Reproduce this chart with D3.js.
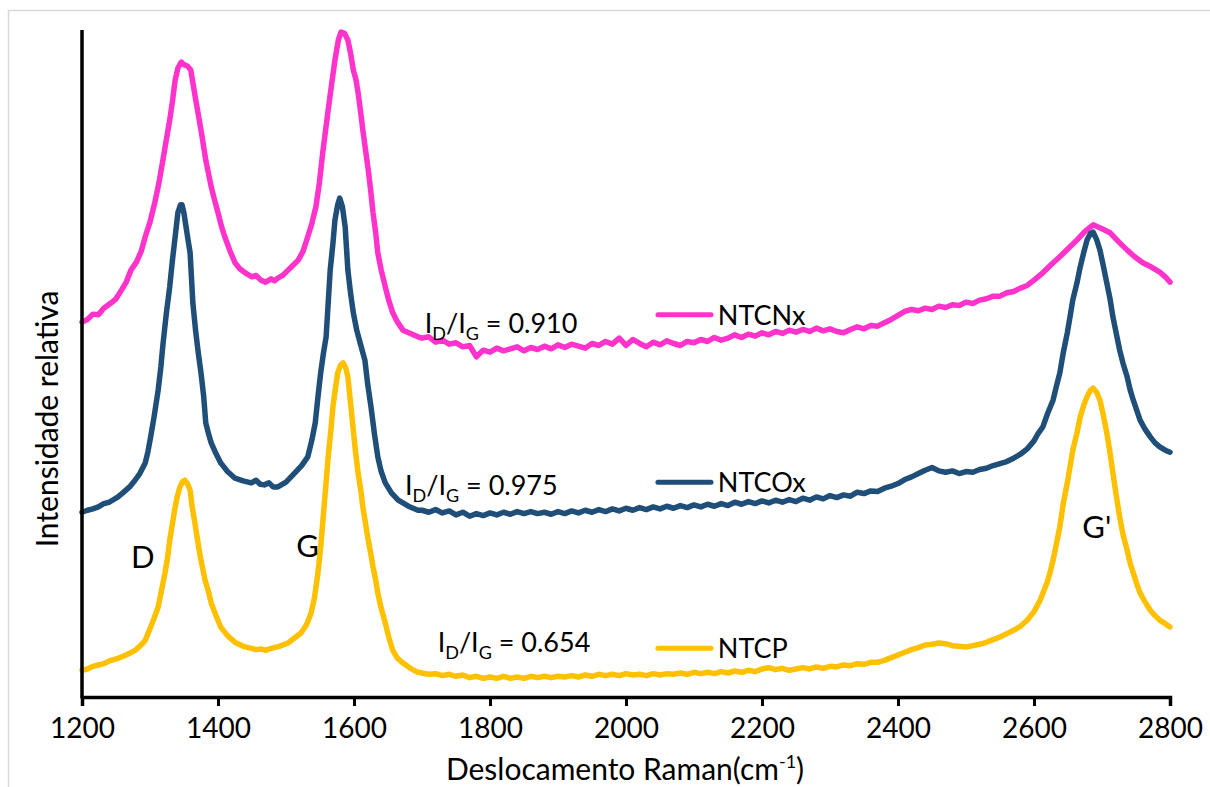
<!DOCTYPE html>
<html>
<head>
<meta charset="utf-8">
<script src="https://cdn.jsdelivr.net/npm/d3@7"></script>
<style>
  html, body { margin: 0; padding: 0; background: #fff; }
  svg { display: block; font-family: Lato, "Open Sans", sans-serif; }
</style>
</head>
<body>
<svg id="chart" width="1210" height="787"></svg>
<script>
// Raman spectra: [Raman shift (cm-1), relative intensity]
const ntcnx = [
  [1200,562],[1208,566],[1216,574],[1224,573],[1232,583],[1243,591],[1250,597],[1258,610],[1265,622],[1272,640],
  [1280,652],[1287,668],[1293,690],[1300,712],[1307,741],[1313,770],[1319,805],[1324,835],[1329,865],[1333,893],
  [1337,925],[1341,943],[1346,952],[1350,948],[1355,946],[1360,940],[1364,915],[1368,891],[1375,850],[1382,805],
  [1390,765],[1395,745],[1400,726],[1405,706],[1410,690],[1418,668],[1425,651],[1432,642],[1440,636],[1450,630],
  [1456,632],[1463,625],[1470,622],[1478,627],[1483,624],[1488,628],[1495,632],[1503,640],[1510,647],[1518,655],
  [1525,668],[1532,690],[1538,710],[1544,735],[1549,770],[1554,816],[1558,848],[1562,880],[1567,918],[1572,955],
  [1577,985],[1581,997],[1586,995],[1591,985],[1595,965],[1599,940],[1603,925],[1606,906],[1610,875],[1613,850],
  [1617,820],[1621,790],[1625,755],[1628,726],[1632,695],[1635,666],[1640,640],[1646,615],[1651,595],[1657,576],
  [1664,562],[1672,550],[1683,545],[1694,540],
  [1700,538],[1710,540],[1720,532],[1730,535],[1740,529],[1750,531],[1760,525],[1770,527],[1780,510],[1790,520],
  [1800,517],[1810,523],[1820,519],[1830,522],[1840,525],[1850,519],[1860,524],[1870,521],[1880,526],[1890,522],
  [1900,528],[1910,524],[1920,529],[1930,526],[1940,523],[1950,530],[1960,527],[1970,533],[1980,529],[1990,538],
  [2000,527],[2010,536],[2020,530],[2030,525],[2040,532],[2050,528],[2060,534],[2070,530],[2080,527],[2090,533],
  [2100,531],[2110,536],[2120,533],[2130,539],[2140,535],[2150,538],[2160,543],[2170,539],[2180,544],[2190,541],
  [2200,546],[2210,543],[2220,548],[2230,545],[2240,550],[2250,547],[2260,551],[2270,548],[2280,553],[2290,549],
  [2300,552],[2310,548],[2320,546],[2330,551],[2340,555],[2350,552],[2360,557],[2370,556],[2380,561],[2390,566],
  [2400,572],[2410,578],[2420,581],[2430,579],[2440,583],[2450,581],[2460,586],[2470,584],[2480,588],[2490,587],
  [2500,592],[2510,590],[2520,595],[2530,597],[2540,601],[2550,601],[2560,606],[2570,608],[2580,613],[2590,617],
  [2600,625],[2613,636],[2625,648],[2638,660],[2650,672],[2663,685],[2675,698],[2687,708],[2700,702],[2712,696],
  [2725,682],[2737,670],[2748,660],[2760,651],[2772,645],[2785,637],[2793,630],[2800,622]
];

const ntcox = [
  [1200,277],[1208,280],[1216,282],[1224,285],[1232,290],[1240,292],[1253,300],[1260,306],[1270,315],[1278,325],
  [1285,335],[1293,351],[1297,368],[1301,390],[1306,420],[1312,460],[1316,495],[1319,528],[1324,575],[1329,615],
  [1333,655],[1337,690],[1341,726],[1345,738],[1347,738],[1350,725],[1353,705],[1356,685],[1359,666],[1363,591],
  [1367,550],[1371,516],[1375,486],[1379,450],[1382,411],[1386,395],[1390,381],[1397,365],[1404,351],[1414,338],
  [1425,328],[1437,324],[1449,321],[1456,325],[1462,319],[1468,318],[1475,321],[1481,315],[1488,315],[1500,322],
  [1513,336],[1523,347],[1532,360],[1538,385],[1543,411],[1547,450],[1551,486],[1555,515],[1559,540],[1562,590],
  [1565,640],[1569,680],[1572,715],[1576,738],[1579,748],[1583,735],[1587,705],[1591,640],[1595,605],[1599,576],
  [1604,550],[1609,531],[1616,505],[1620,470],[1625,435],[1630,395],[1635,360],[1640,338],[1646,321],[1655,306],
  [1665,295],[1680,286],[1694,280],
  [1700,280],[1710,277],[1720,281],[1730,276],[1740,279],[1750,273],[1760,277],[1770,271],[1780,275],[1790,272],
  [1800,276],[1810,273],[1820,277],[1830,274],[1840,278],[1850,275],[1860,278],[1870,275],[1880,277],[1890,274],
  [1900,278],[1910,275],[1920,279],[1930,276],[1940,280],[1950,277],[1960,281],[1970,278],[1980,282],[1990,279],
  [2000,283],[2010,280],[2020,284],[2030,281],[2040,285],[2050,282],[2060,286],[2070,283],[2080,287],[2090,284],
  [2100,288],[2110,285],[2120,289],[2130,286],[2140,290],[2150,287],[2160,292],[2170,289],[2180,293],[2190,290],
  [2200,294],[2210,291],[2220,295],[2230,292],[2240,296],[2250,293],[2260,298],[2270,295],[2280,300],[2290,297],
  [2300,302],[2310,299],[2320,303],[2330,301],[2340,307],[2350,305],[2360,309],[2370,308],[2380,313],[2390,316],
  [2400,320],[2410,326],[2420,330],[2430,335],[2440,340],[2450,344],[2460,339],[2470,337],[2480,339],[2490,335],
  [2500,338],[2510,337],[2520,341],[2530,343],[2540,347],[2550,350],[2560,353],[2570,358],[2580,364],[2590,372],
  [2600,384],[2606,395],[2613,405],[2620,425],[2628,445],[2633,466],[2638,486],[2643,516],[2649,546],[2653,570],
  [2657,595],[2663,620],[2668,645],[2673,666],[2678,685],[2683,695],[2687,697],[2692,686],[2697,670],[2702,646],
  [2707,621],[2712,596],[2716,570],[2721,545],[2726,520],[2731,500],[2737,480],[2741,462],[2746,445],[2751,430],
  [2756,415],[2763,402],[2771,390],[2778,381],[2785,375],[2793,370],[2800,367]
];

const ntcp = [
  [1200,40],[1208,42],[1216,46],[1224,48],[1232,50],[1240,54],[1253,58],[1265,63],[1278,70],[1286,77],
  [1293,85],[1297,95],[1301,105],[1306,118],[1312,135],[1317,160],[1322,186],[1326,210],[1329,235],[1333,260],
  [1337,285],[1340,300],[1344,315],[1348,323],[1351,325],[1355,320],[1359,310],[1362,285],[1366,261],[1370,235],
  [1374,210],[1378,190],[1381,175],[1386,158],[1390,141],[1397,122],[1404,105],[1414,92],[1425,82],[1437,76],
  [1449,73],[1456,71],[1463,72],[1470,70],[1478,73],[1490,76],[1503,81],[1512,88],[1522,96],[1530,108],
  [1537,126],[1542,150],[1547,186],[1551,225],[1554,261],[1558,310],[1562,360],[1566,400],[1569,435],[1573,465],
  [1576,486],[1580,497],[1584,501],[1588,493],[1591,480],[1595,440],[1599,400],[1602,370],[1606,336],[1610,310],
  [1613,285],[1617,260],[1621,235],[1625,213],[1628,195],[1632,175],[1635,156],[1640,133],[1646,111],[1651,90],
  [1657,70],[1664,58],[1672,51],[1683,43],[1694,37],
  [1700,36],[1710,34],[1720,35],[1730,32],[1740,34],[1750,31],[1760,33],[1770,29],[1780,31],[1790,28],
  [1800,30],[1810,28],[1820,31],[1830,28],[1840,30],[1850,28],[1860,31],[1870,29],[1880,31],[1890,29],
  [1900,31],[1910,30],[1920,32],[1930,30],[1940,33],[1950,31],[1960,34],[1970,32],[1980,34],[1990,32],
  [2000,35],[2010,33],[2020,34],[2030,32],[2040,35],[2050,33],[2060,35],[2070,34],[2080,36],[2090,34],
  [2100,37],[2110,35],[2120,37],[2130,35],[2140,38],[2150,36],[2160,39],[2170,37],[2180,40],[2190,38],
  [2200,42],[2210,44],[2220,41],[2230,43],[2240,40],[2250,42],[2260,44],[2270,42],[2280,45],[2290,43],
  [2300,46],[2310,45],[2320,48],[2330,47],[2340,50],[2350,49],[2360,52],[2370,52],[2380,55],[2390,59],
  [2400,63],[2410,67],[2420,71],[2430,74],[2440,78],[2450,79],[2460,81],[2470,80],[2480,77],[2490,76],
  [2500,75],[2510,77],[2520,79],[2530,82],[2540,86],[2550,90],[2560,95],[2570,100],[2580,106],[2590,115],
  [2600,128],[2609,145],[2614,158],[2619,171],[2624,188],[2628,205],[2633,230],[2638,255],[2643,290],[2649,321],
  [2653,345],[2657,370],[2663,395],[2668,420],[2673,437],[2678,450],[2683,460],[2687,463],[2692,457],[2697,445],
  [2702,422],[2707,396],[2712,365],[2716,336],[2721,302],[2726,270],[2731,243],[2737,220],[2741,202],[2746,186],
  [2751,170],[2756,156],[2763,143],[2771,130],[2778,122],[2785,115],[2793,110],[2800,105]
];

const seriesNames = ["NTCNx", "NTCOx", "NTCP"];
const seriesColors = ["#ff33cc", "#1f4e79", "#ffc000"];
const ratioValues = ["0.910", "0.975", "0.654"];
const ratioAnchors = [[1704, 546], [1675, 303], [1723, 67]];   // [shift, intensity] of each ratio label
const legendAnchors = [573, 322, 73];                          // intensity level of each legend key
const bandLabels = ["D", "G", "G'"];
const bandAnchors = [[1272, 194], [1515, 210], [2671, 238]];
const xTicks = [1200, 1400, 1600, 1800, 2000, 2200, 2400, 2600, 2800];

const svg = d3.select("#chart");
const margin = { left: 82, right: 40, top: 30, bottom: 90 };
const W = 1210, H = 787;

// outer chart frame
svg.append("rect")
  .attr("x", 8.5).attr("y", 10.5)
  .attr("width", 1220).attr("height", 800)
  .attr("fill", "none").attr("stroke", "#d9d9d9").attr("stroke-width", 1.5);

const x = d3.scaleLinear().domain([1200, 2800]).range([margin.left, W - margin.right]);
const y = d3.scaleLinear().domain([0, 1000]).range([H - margin.bottom, margin.top]);

const line = d3.line().x(d => x(d[0])).y(d => y(d[1]));

// spectra
[ntcnx, ntcox, ntcp].forEach((data, i) => {
  svg.append("path")
    .datum(data)
    .attr("d", line)
    .attr("fill", "none")
    .attr("stroke", seriesColors[i])
    .attr("stroke-width", 5.5)
    .attr("stroke-linejoin", "round")
    .attr("stroke-linecap", "round");
});

// axes
const xAxis = d3.axisBottom(x).tickValues(xTicks).tickSize(9).tickPadding(12).tickFormat(d3.format("d"));
const gx = svg.append("g").attr("transform", `translate(0,${y(0)})`).call(xAxis);
gx.select(".domain").attr("stroke", "#000").attr("stroke-width", 3.5);
gx.selectAll(".tick line").attr("stroke", "#000").attr("stroke-width", 3);
gx.selectAll(".tick text").attr("font-size", 28).attr("fill", "#000").attr("font-family", "Lato, sans-serif");

svg.append("line")
  .attr("x1", x(1200)).attr("x2", x(1200))
  .attr("y1", y(1000)).attr("y2", y(0) + 1.5)
  .attr("stroke", "#000").attr("stroke-width", 3.5);

// axis titles
const xt = svg.append("text")
  .attr("x", (x(1200) + x(2800)) / 2 - 1).attr("y", 780)
  .attr("text-anchor", "middle").attr("font-size", 30).attr("fill", "#000");
xt.append("tspan").text("Deslocamento Raman(cm");
xt.append("tspan").attr("font-size", 18).attr("dy", -12).text("-1");
xt.append("tspan").attr("dy", 12).text(")");

svg.append("text")
  .attr("transform", `translate(58,419) rotate(-90)`)
  .attr("text-anchor", "middle").attr("font-size", 30).attr("fill", "#000")
  .text("Intensidade relativa");

// I_D/I_G ratio labels
ratioValues.forEach((v, i) => {
  const t = svg.append("text")
    .attr("x", x(ratioAnchors[i][0])).attr("y", y(ratioAnchors[i][1]))
    .attr("font-size", 27).attr("fill", "#000");
  t.append("tspan").text("I");
  t.append("tspan").attr("font-size", 18).attr("dy", 7).text("D");
  t.append("tspan").attr("dy", -7).text("/I");
  t.append("tspan").attr("font-size", 18).attr("dy", 7).text("G");
  t.append("tspan").attr("dy", -7).text(" = " + v);
});

// legend keys
seriesNames.forEach((name, i) => {
  const ly = y(legendAnchors[i]);
  svg.append("line")
    .attr("x1", x(2047)).attr("x2", x(2125))
    .attr("y1", ly).attr("y2", ly)
    .attr("stroke", seriesColors[i]).attr("stroke-width", 5).attr("stroke-linecap", "round");
  svg.append("text")
    .attr("x", x(2135)).attr("y", ly + 10)
    .attr("font-size", 27).attr("fill", "#000")
    .text(name);
});

// band labels
bandLabels.forEach((b, i) => {
  svg.append("text")
    .attr("x", x(bandAnchors[i][0])).attr("y", y(bandAnchors[i][1]))
    .attr("font-size", 31).attr("fill", "#000")
    .text(b);
});
</script>
</body>
</html>
